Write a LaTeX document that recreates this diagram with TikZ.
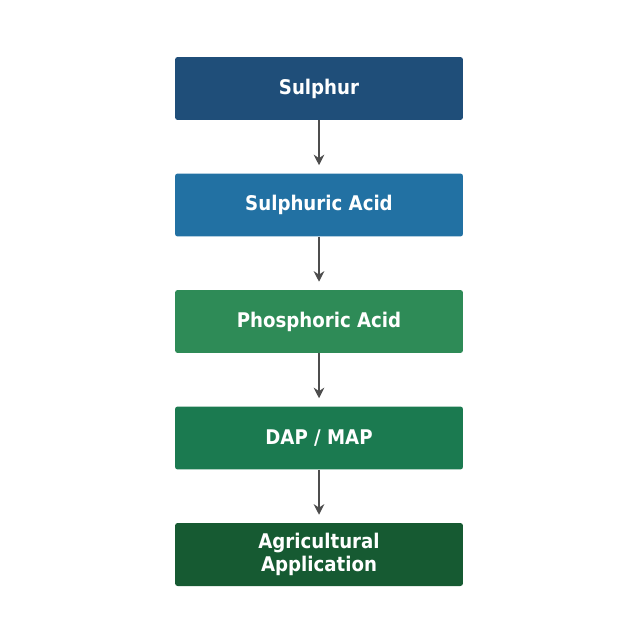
\documentclass[tikz,border=0pt]{standalone}
\usepackage{fontspec}
\setmainfont{DejaVu Sans Condensed}
\usetikzlibrary{positioning, arrows.meta}
\definecolor{SulphurBlue}{HTML}{1F4E79}
\definecolor{AcidBlue}{HTML}{2271A3}
\definecolor{PhosGreen}{HTML}{2E8B57}
\definecolor{DapGreen}{HTML}{1B7A50}
\definecolor{AgriGreen}{HTML}{165A32}
\definecolor{ArrowGray}{HTML}{4D4D4D}

\begin{document}
\begin{tikzpicture}[x=0.02cm, y=-0.02cm,
            box/.style={rectangle, rounded corners=1.5pt, draw=none, text=white, minimum width=5.76cm, minimum height=1.26cm, align=center, font=\bfseries\fontsize{11.5}{13}\selectfont},
            arrow/.style={-{Stealth[length=6pt, width=6pt]}, line width=1.7pt, ArrowGray, shorten >=4.5pt}
        ]
            \useasboundingbox (0,0) rectangle (638,638);
            % Boxes
            \node[box, fill=SulphurBlue] (sulphur) at (319,88.5) {Sulphur};
            \node[box, fill=AcidBlue] (acid) at (319,205) {Sulphuric Acid};
            \node[box, fill=PhosGreen] (phos) at (319,321.5) {Phosphoric Acid};
            \node[box, fill=DapGreen] (dap) at (319,438) {DAP / MAP};
            \node[box, fill=AgriGreen] (agri) at (319,554.5) {Agricultural\\Application};

            % Arrows
            \draw[arrow] (sulphur) -- (acid);
            \draw[arrow] (acid) -- (phos);
            \draw[arrow] (phos) -- (dap);
            \draw[arrow] (dap) -- (agri);
        \end{tikzpicture}
\end{document}
